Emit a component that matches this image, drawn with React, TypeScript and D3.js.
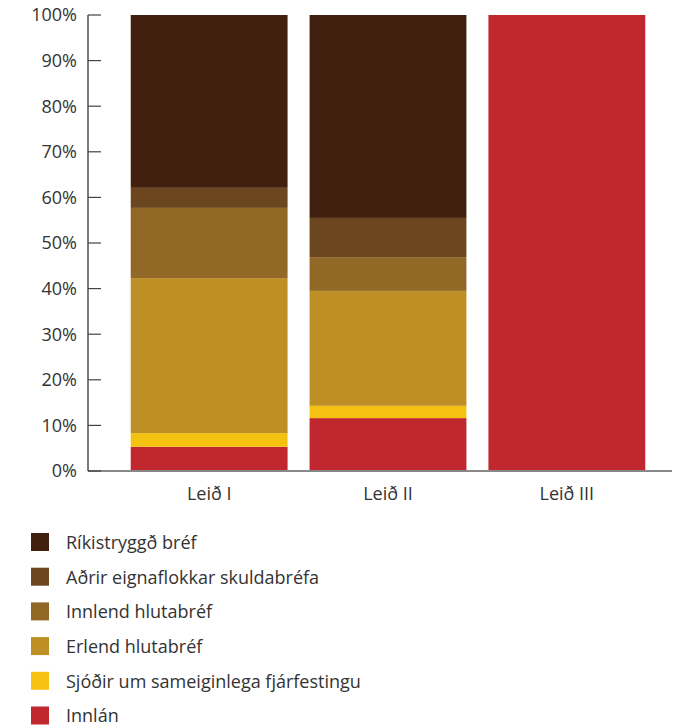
import React from "react";
import * as d3 from "d3";

const categories = ["Leið I", "Leið II", "Leið III"];
const seriesNames = [
  "Innlán",
  "Sjóðir um sameiginlega fjárfestingu",
  "Erlend hlutabréf",
  "Innlend hlutabréf",
  "Aðrir eignaflokkar skuldabréfa",
  "Ríkistryggð bréf",
];
const innlan = [5.3, 11.6, 100];
const sjodir = [3.0, 2.7, 0];
const erlend = [34.0, 25.2, 0];
const innlend = [15.4, 7.4, 0];
const adrir = [4.4, 8.6, 0];
const rikis = [37.9, 44.5, 0];
const colors = ["#C1272F", "#F5C211", "#BE8F24", "#916826", "#6B461E", "#42200F"];
const yTicks = [0, 10, 20, 30, 40, 50, 60, 70, 80, 90, 100];

const W = 675;
const H = 728;
const FONT = "'Open Sans', sans-serif";

export default function App() {
  const values = [innlan, sjodir, erlend, innlend, adrir, rikis];
  const rows = categories.map((c, i) => {
    const r: any = { cat: c };
    seriesNames.forEach((s, j) => (r[s] = values[j][i]));
    return r;
  });
  const stack = d3.stack<any>().keys(seriesNames)(rows);

  const x = d3.scaleBand().domain(categories).range([120, 656]).paddingInner(0.123).paddingOuter(0.06);
  const y = d3.scaleLinear().domain([0, 100]).range([471, 15]);
  const axisX = 88;

  const legendOrder = [...seriesNames].reverse();
  const legendColors = [...colors].reverse();

  return (
    <svg width={W} height={H} style={{ position: "absolute", left: 0, top: 0 }} fontFamily={FONT}>
      {stack.map((layer, j) =>
        layer.map((d, i) =>
          d[1] - d[0] > 0 ? (
            <rect
              key={`${j}-${i}`}
              x={x(categories[i])}
              width={x.bandwidth()}
              y={y(d[1])}
              height={y(d[0]) - y(d[1])}
              fill={colors[j]}
            />
          ) : null
        )
      )}
      <line x1={axisX} x2={672} y1={y(0)} y2={y(0)} stroke="#888" strokeWidth={2} />
      <line x1={axisX} x2={axisX} y1={y(100)} y2={y(0)} stroke="#222" strokeWidth={1.2} />
      {yTicks.map((t) => (
        <g key={t}>
          <line x1={axisX} x2={axisX + 13} y1={y(t)} y2={y(t)} stroke="#444" strokeWidth={1.2} />
          <text x={77} y={y(t)} dy="0.36em" textAnchor="end" fontSize={18} fill="#333">
            {t}%
          </text>
        </g>
      ))}
      {categories.map((c) => (
        <text key={c} x={(x(c) as number) + x.bandwidth() / 2} y={500} textAnchor="middle" fontSize={18} fill="#333">
          {c}
        </text>
      ))}
      {legendOrder.map((s, i) => (
        <g key={s} transform={`translate(31, ${533 + i * 34.7})`}>
          <rect width={18} height={18} fill={legendColors[i]} />
          <text x={35} y={9} dy="0.38em" fontSize={18} fill="#333">
            {s}
          </text>
        </g>
      ))}
    </svg>
  );
}
